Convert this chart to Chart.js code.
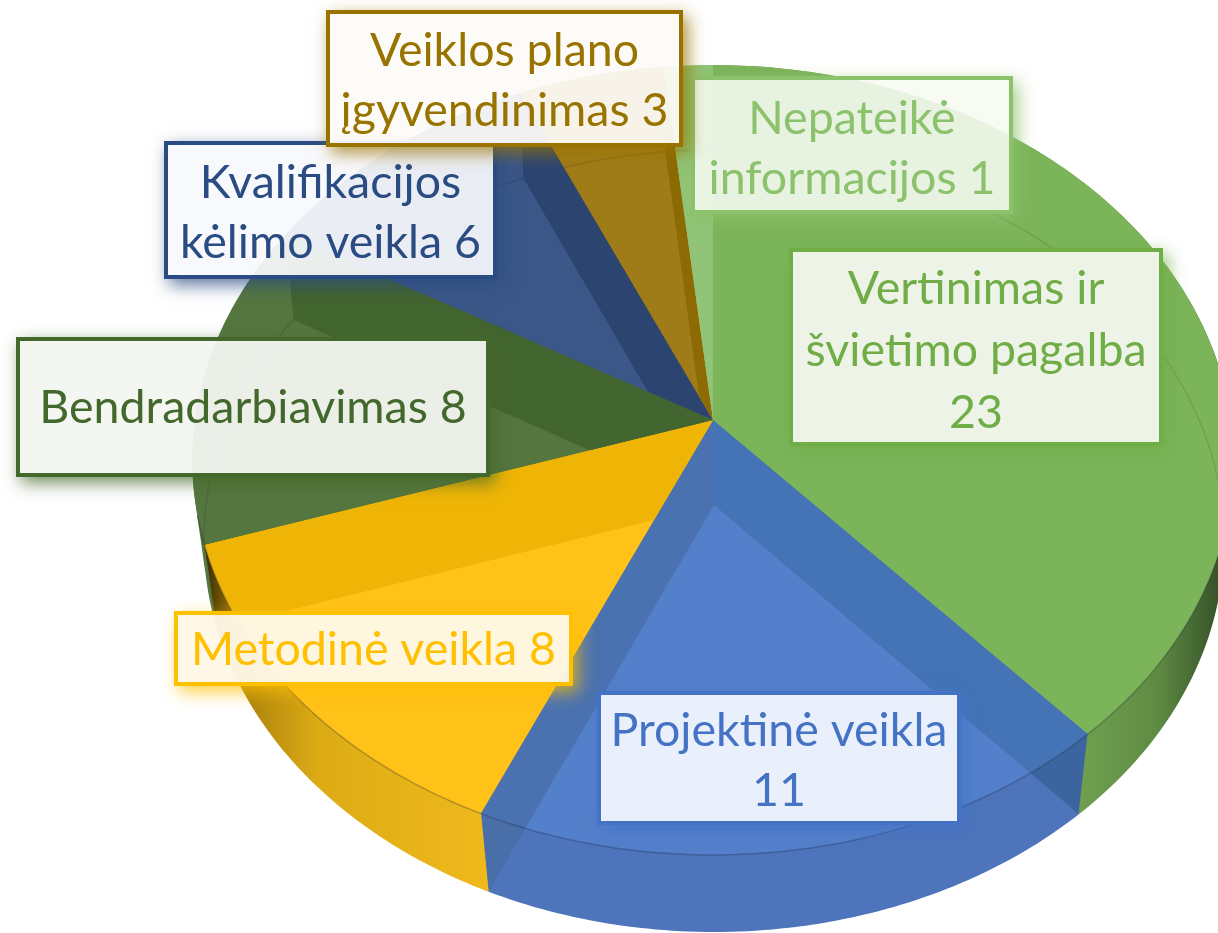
<!DOCTYPE html>
<html>
<head>
<meta charset="utf-8">
<style>html,body{margin:0;padding:0;background:#fff;overflow:hidden}#wrap{width:1218px;height:933px}</style>
<script src="https://cdn.jsdelivr.net/npm/chart.js@4"></script>
</head>
<body>
<div id="wrap"><canvas id="c" width="1218" height="933"></canvas></div>
<script>
// ---- data
const categories = [
  "Vertinimas ir švietimo pagalba",
  "Projektinė veikla",
  "Metodinė veikla",
  "Bendradarbiavimas",
  "Kvalifikacijos kėlimo veikla",
  "Veiklos plano įgyvendinimas",
  "Nepateikė informacijos"
];
const values = [23, 11, 8, 8, 6, 3, 1];
// where each category's label text wraps (the value is appended to the last line)
const labelLines = [
  ["Vertinimas ir", "švietimo pagalba", ""],
  ["Projektinė veikla", ""],
  ["Metodinė veikla "],
  ["Bendradarbiavimas "],
  ["Kvalifikacijos", "kėlimo veikla "],
  ["Veiklos plano", "įgyvendinimas "],
  ["Nepateikė", "informacijos "]
];
// ---- styles
const faceColors  = ["#7cb45a","#5480cb","#ffc219","#55773f","#3b5787","#a07c19","#91c476"];
const bandStart   = ["#7cb45a","#4474b6","#efb506","#43652f","#2c4570","#8d6a03","#91c476"];
const bandEnd     = ["#7cb45a","#4b72b0","#efb506","#43652f","#2c4570","#8d6a03","#91c476"];
const rimColors   = ["#6a9a4b","#4e75bb","#e9b518","#55773f","#3b5787","#a07c19","#91c476"];
const labelColors = ["#70ad47","#4472c4","#ffc000","#43682b","#2b4c82","#997300","#8cc26c"];
const boxFills    = ["rgba(246,250,243,.92)","rgba(240,244,252,.97)","rgba(255,248,232,.96)","rgba(243,245,241,.95)","rgba(248,249,252,.93)","rgba(252,251,246,.94)","rgba(246,251,243,.88)"];
// label boxes: left, top, right, bottom, first text line centre y, line step
const labelBoxes = [
  [791,250,1161,444,289,62],
  [599,693,959,823,731,60],
  [176,613,571,684,650,0],
  [18,339,488,475,408,0],
  [166,143,495,277,183,60],
  [328,12,681,145,51,60],
  [693,78,1011,212,119,60]
];
const labelFont = '46.5px Lato, Carlito, "Open Sans", sans-serif';
const paintOrder = [3,4,5,6,0,2,1];
// projective view of the tilted disc: top and bottom surface
const topDisc = {x:713,y:420,a:518,b:390.9,k:-0.1013};
const botDisc = {x:714,y:505,a:508,b:387.7,k:-0.092};
const lerp=(a,b,t)=>a+(b-a)*t;
const discAt=t=>{const o={};for(const k in topDisc)o[k]=lerp(topDisc[k],botDisc[k],t);return o;};
function pt(d,ang){
  const u=Math.cos(ang),v=Math.sin(ang),w=1+d.k*v;
  return [d.x+d.a*u/w,d.y+d.b*v/w];
}
function arcPts(d,a0,a1){
  const n=Math.max(2,Math.ceil((a1-a0)/0.015)),p=[];
  for(let i=0;i<=n;i++)p.push(pt(d,lerp(a0,a1,i/n)));
  return p;
}
function addFace(ctx,d,a0,a1){
  ctx.moveTo(d.x,d.y);
  for(const p of arcPts(d,a0,a1))ctx.lineTo(p[0],p[1]);
  ctx.closePath();
}
function addStack(ctx,a0,a1){
  for(let k=0;k<=60;k++)addFace(ctx,discAt(k/60),a0,a1);
}
function addQuad(ctx,a){
  const p=pt(topDisc,a),q=pt(botDisc,a);
  ctx.moveTo(topDisc.x,topDisc.y);ctx.lineTo(p[0],p[1]);ctx.lineTo(q[0],q[1]);ctx.lineTo(botDisc.x,botDisc.y);ctx.closePath();
}
function drawArcFace(ctx,arc,color){
  // the library's own arc element, mapped so that its two edges land on the
  // projected slice edges, and trimmed to the projected rim
  const d=topDisc,R=arc.outerRadius,a0=arc.startAngle,a1=arc.endAngle;
  const e0=pt(d,a0),e1=pt(d,a1);
  const ex0=e0[0]-d.x,ey0=e0[1]-d.y,ex1=e1[0]-d.x,ey1=e1[1]-d.y;
  const c0=Math.cos(a0),s0=Math.sin(a0),c1=Math.cos(a1),s1=Math.sin(a1);
  const det=c0*s1-c1*s0, f=1.6/R;
  const m11=(ex0*s1-ex1*s0)/det,m12=(ex1*c0-ex0*c1)/det,m21=(ey0*s1-ey1*s0)/det,m22=(ey1*c0-ey0*c1)/det;
  const saved=arc.options;
  arc.options=Object.assign({},saved,{backgroundColor:color,borderWidth:0,borderColor:color});
  ctx.save();
  ctx.beginPath();addFace(ctx,d,a0,a1);ctx.clip();
  ctx.transform(m11*f,m21*f,m12*f,m22*f,d.x,d.y);
  ctx.translate(-arc.x,-arc.y);
  arc.draw(ctx);
  ctx.restore();
  arc.options=saved;
}
const pie3d={
  id:'pie3d',
  beforeDatasetDraw(chart){
    const ctx=chart.ctx,arcs=chart.getDatasetMeta(0).data;
    const W=ctx.canvas.width,H=ctx.canvas.height;
    // outer wall and radial walls below the top surface
    for(const i of paintOrder){
      const a=arcs[i],a0=a.startAngle,a1=a.endAngle;
      ctx.save();
      ctx.beginPath();addStack(ctx,a0,a1);ctx.clip();
      if(i===0){
        const g=ctx.createLinearGradient(1080,0,1218,0);
        g.addColorStop(0,'#6f9f4f');g.addColorStop(.55,'#5f8c43');g.addColorStop(1,'#38542a');
        ctx.fillStyle=g;
      }else if(i===2){
        const g=ctx.createLinearGradient(205,0,485,0);
        g.addColorStop(0,'#3a2c00');g.addColorStop(.12,'#a87f0c');g.addColorStop(.4,'#dcab14');g.addColorStop(1,'#efb91c');
        ctx.fillStyle=g;
      }else ctx.fillStyle=rimColors[i];
      ctx.fillRect(0,0,W,H);
      if(i===1){
        ctx.fillStyle='#3c659f';ctx.beginPath();addQuad(ctx,a0);ctx.fill();
        ctx.fillStyle='#4a6ea8';ctx.beginPath();addQuad(ctx,a1);ctx.fill();
      }
      ctx.restore();
    }
    // top surfaces, with radial walls seen through them
    arcs.forEach((a,i)=>{
      drawArcFace(ctx,a,faceColors[i]);
      ctx.save();
      ctx.beginPath();addFace(ctx,topDisc,a.startAngle,a.endAngle);ctx.clip();
      ctx.fillStyle=bandStart[i];ctx.beginPath();addQuad(ctx,a.startAngle);ctx.fill();
      ctx.fillStyle=bandEnd[i];ctx.beginPath();addQuad(ctx,a.endAngle);ctx.fill();
      // far edge of the bottom surface, seen through
      ctx.strokeStyle='rgba(0,0,0,.10)';ctx.lineWidth=1.5;ctx.beginPath();
      arcPts(botDisc,a.startAngle,a.endAngle).forEach((p,k)=>k?ctx.lineTo(p[0],p[1]):ctx.moveTo(p[0],p[1]));
      ctx.stroke();
      ctx.restore();
      // near edge of the top surface
      if(a.startAngle<2.9&&a.endAngle>-0.05){
        ctx.strokeStyle='rgba(20,30,50,.28)';ctx.lineWidth=1.5;ctx.beginPath();
        arcPts(topDisc,Math.max(a.startAngle,-0.05),Math.min(a.endAngle,2.9)).forEach((p,k)=>k?ctx.lineTo(p[0],p[1]):ctx.moveTo(p[0],p[1]));
        ctx.stroke();
      }
    });
    return false;
  },
  afterDatasetsDraw(chart){
    const ctx=chart.ctx,W=ctx.canvas.width,H=ctx.canvas.height;
    [2,1,0,3,4,6,5].forEach(i=>{
      const [l,t,r,b,y0,step]=labelBoxes[i],col=labelColors[i];
      ctx.save();
      ctx.beginPath();ctx.rect(0,0,W,H);ctx.rect(l-2,t-2,r-l+4,b-t+4);ctx.clip('evenodd');
      ctx.shadowColor=col+'c0';ctx.shadowBlur=16;ctx.shadowOffsetX=5;ctx.shadowOffsetY=6;
      ctx.fillStyle=col;ctx.fillRect(l-2,t-2,r-l+4,b-t+4);
      ctx.restore();
      ctx.fillStyle=boxFills[i];ctx.fillRect(l,t,r-l,b-t);
      ctx.strokeStyle=col;ctx.lineWidth=4;ctx.strokeRect(l,t,r-l,b-t);
      ctx.fillStyle=col;ctx.font=labelFont;ctx.textAlign='center';ctx.textBaseline='middle';
      const lines=labelLines[i],cx=(l+r)/2;
      lines.forEach((s,k)=>{
        const txt=k===lines.length-1?s+values[i]:s;
        ctx.fillText(txt,cx,y0+k*step);
      });
    });
  }
};
new Chart(document.getElementById('c'),{
  type:'pie',
  data:{labels:categories,datasets:[{data:values,backgroundColor:faceColors,borderWidth:0}]},
  options:{
    responsive:false,animation:false,rotation:0,
    events:[],
    plugins:{legend:{display:false},tooltip:{enabled:false},title:{display:false}}
  },
  plugins:[pie3d]
});
</script>
</body>
</html>
